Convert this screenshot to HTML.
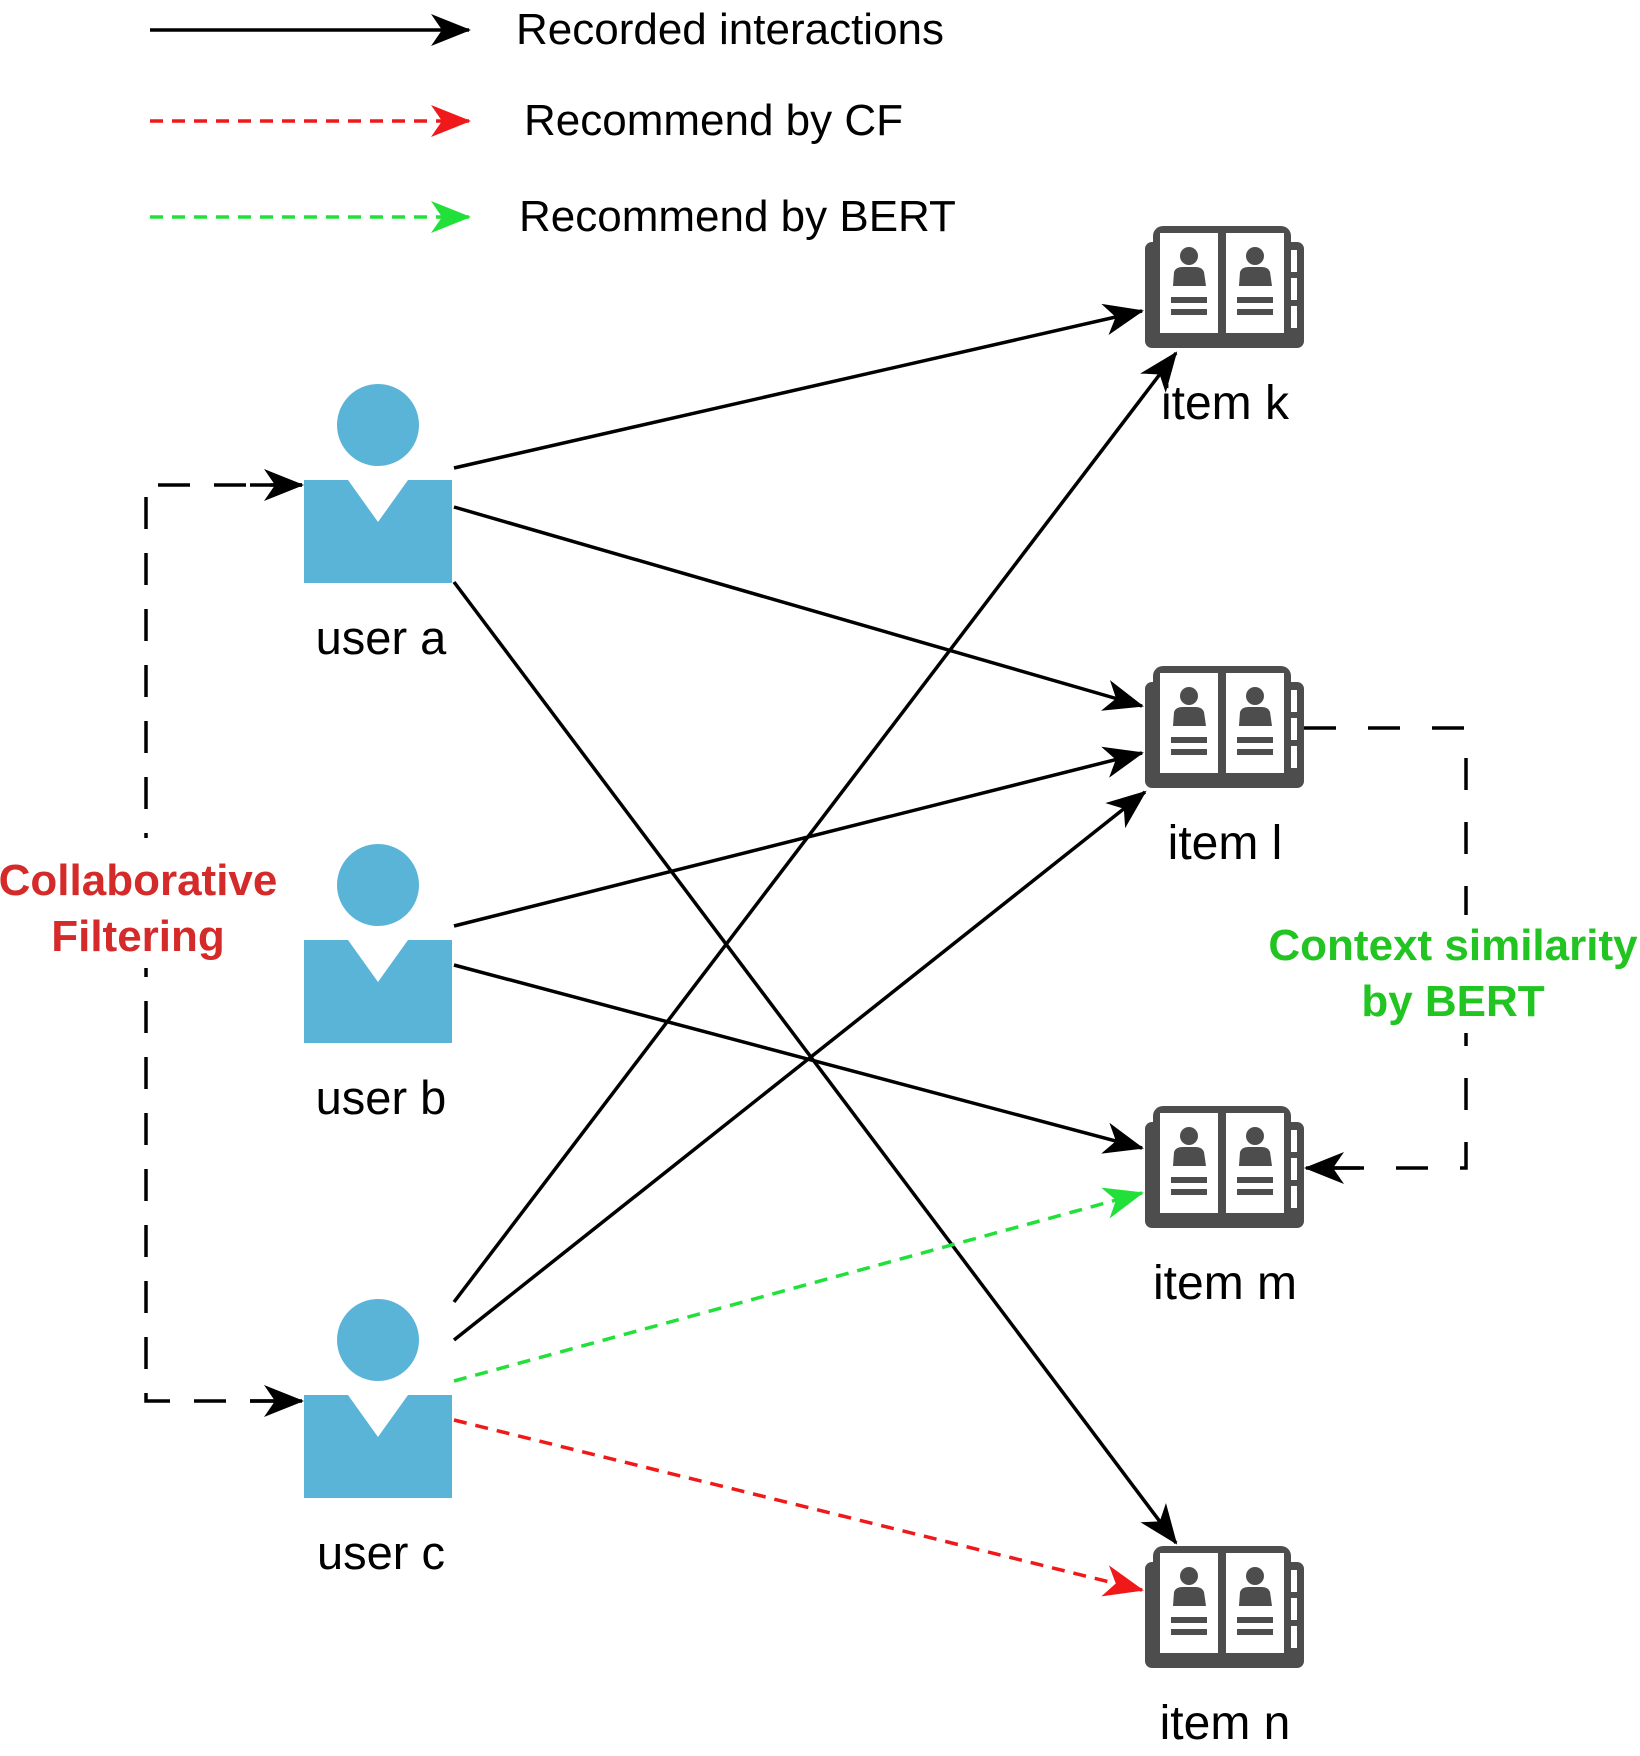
<!DOCTYPE html>
<html><head><meta charset="utf-8"><style>
html,body{margin:0;padding:0;background:#fff;}
svg{display:block;}
text{font-family:"Liberation Sans",Arial,sans-serif;}
</style></head><body>
<svg width="1640" height="1756" viewBox="0 0 1640 1756" xmlns="http://www.w3.org/2000/svg">
<defs>
<marker id="ab" viewBox="0 0 40 32" refX="38" refY="16" markerWidth="40" markerHeight="32" markerUnits="userSpaceOnUse" orient="auto"><path d="M0,0 L40,16 L0,32 L11,16 Z" fill="#000"/></marker>
<marker id="ar" viewBox="0 0 40 32" refX="38" refY="16" markerWidth="40" markerHeight="32" markerUnits="userSpaceOnUse" orient="auto"><path d="M0,0 L40,16 L0,32 L11,16 Z" fill="#f01818"/></marker>
<marker id="ag" viewBox="0 0 40 32" refX="38" refY="16" markerWidth="40" markerHeight="32" markerUnits="userSpaceOnUse" orient="auto"><path d="M0,0 L40,16 L0,32 L11,16 Z" fill="#22e03a"/></marker>
<g id="book">
<rect x="0" y="16" width="159" height="106" rx="7" fill="#4d4d4d"/>
<rect x="8" y="0" width="138" height="118" rx="10" fill="#4d4d4d"/>
<rect x="15" y="7" width="58" height="100" fill="#fff"/>
<rect x="81" y="7" width="58" height="100" fill="#fff"/>
<rect x="146" y="24" width="6" height="22" fill="#fff"/>
<rect x="146" y="52" width="6" height="22" fill="#fff"/>
<rect x="146" y="80" width="6" height="22" fill="#fff"/>
<circle cx="44" cy="30" r="9" fill="#4d4d4d"/>
<path d="M28,60 L29,46 Q31,41 37,41 L51,41 Q57,41 59,46 L61,60 Z" fill="#4d4d4d"/>
<rect x="26" y="71" width="36" height="6" fill="#4d4d4d"/>
<rect x="26" y="83" width="36" height="6" fill="#4d4d4d"/>
<circle cx="110" cy="30" r="9" fill="#4d4d4d"/>
<path d="M94,60 L95,46 Q97,41 103,41 L117,41 Q123,41 125,46 L127,60 Z" fill="#4d4d4d"/>
<rect x="92" y="71" width="36" height="6" fill="#4d4d4d"/>
<rect x="92" y="83" width="36" height="6" fill="#4d4d4d"/>
</g>
<g id="user">
<circle cx="74" cy="0" r="41" fill="#5ab4d8"/>
<path d="M0,55 L44,55 L74,97 L104,55 L148,55 L148,158 L0,158 Z" fill="#5ab4d8"/>
</g>
</defs>

<!-- legend -->
<line x1="150" y1="30" x2="469" y2="30" stroke="#000" stroke-width="3.5" marker-end="url(#ab)"/>
<line x1="150" y1="121" x2="469" y2="121" stroke="#f01818" stroke-width="3.5" stroke-dasharray="13,9" marker-end="url(#ar)"/>
<line x1="150" y1="217" x2="469" y2="217" stroke="#22e03a" stroke-width="3.5" stroke-dasharray="13,9" marker-end="url(#ag)"/>
<text x="516" y="44" font-size="44" fill="#000">Recorded interactions</text>
<text x="524" y="135" font-size="44" fill="#000">Recommend by CF</text>
<text x="519" y="231" font-size="44" fill="#000">Recommend by BERT</text>

<!-- users -->
<use href="#user" x="304" y="425"/>
<use href="#user" x="304" y="885"/>
<use href="#user" x="304" y="1340"/>
<text x="381" y="654" font-size="47" text-anchor="middle">user a</text>
<text x="381" y="1114" font-size="47" text-anchor="middle">user b</text>
<text x="381" y="1569" font-size="47" text-anchor="middle">user c</text>

<!-- books -->
<use href="#book" x="1145" y="226"/>
<use href="#book" x="1145" y="666"/>
<use href="#book" x="1145" y="1106"/>
<use href="#book" x="1145" y="1546"/>
<text x="1225" y="419" font-size="48" text-anchor="middle">item k</text>
<text x="1225" y="859" font-size="48" text-anchor="middle">item l</text>
<text x="1225" y="1299" font-size="48" text-anchor="middle">item m</text>
<text x="1225" y="1739" font-size="48" text-anchor="middle">item n</text>

<!-- edges -->
<g stroke="#000" stroke-width="3.5" fill="none">
<line x1="454" y1="468" x2="1142" y2="311" marker-end="url(#ab)"/>
<line x1="454" y1="507" x2="1142" y2="706" marker-end="url(#ab)"/>
<line x1="454" y1="582" x2="1176" y2="1543" marker-end="url(#ab)"/>
<line x1="454" y1="926" x2="1142" y2="753" marker-end="url(#ab)"/>
<line x1="454" y1="965" x2="1142" y2="1148" marker-end="url(#ab)"/>
<line x1="454" y1="1302" x2="1176" y2="353" marker-end="url(#ab)"/>
<line x1="454" y1="1340" x2="1145" y2="792" marker-end="url(#ab)"/>
</g>
<line x1="454" y1="1381" x2="1142" y2="1193" stroke="#22e03a" stroke-width="3.5" stroke-dasharray="13,9" marker-end="url(#ag)"/>
<line x1="454" y1="1420" x2="1142" y2="1590" stroke="#f01818" stroke-width="3.5" stroke-dasharray="13,9" marker-end="url(#ar)"/>

<!-- CF dashed -->
<path d="M302,485 L146,485 L146,1401 L302,1401" stroke="#000" stroke-width="3.5" fill="none" stroke-dasharray="32,24"/>
<line x1="250" y1="485" x2="302" y2="485" stroke="#000" stroke-width="3.5" marker-end="url(#ab)"/>
<line x1="250" y1="1401" x2="302" y2="1401" stroke="#000" stroke-width="3.5" marker-end="url(#ab)"/>
<rect x="0" y="838" width="285" height="130" fill="#fff"/>
<text x="138" y="895" font-size="44" font-weight="bold" fill="#d42a2a" text-anchor="middle">Collaborative</text>
<text x="138" y="951" font-size="44" font-weight="bold" fill="#d42a2a" text-anchor="middle">Filtering</text>

<!-- BERT dashed -->
<path d="M1304,728 L1466,728 L1466,1168 L1306,1168" stroke="#000" stroke-width="3.5" fill="none" stroke-dasharray="32,32"/>
<line x1="1360" y1="1168" x2="1306" y2="1168" stroke="#000" stroke-width="3.5" marker-end="url(#ab)"/>
<rect x="1262" y="915" width="378" height="118" fill="#fff"/>
<text x="1453" y="960" font-size="44" font-weight="bold" fill="#22c422" text-anchor="middle">Context similarity</text>
<text x="1453" y="1016" font-size="44" font-weight="bold" fill="#22c422" text-anchor="middle">by BERT</text>
</svg>
</body></html>
